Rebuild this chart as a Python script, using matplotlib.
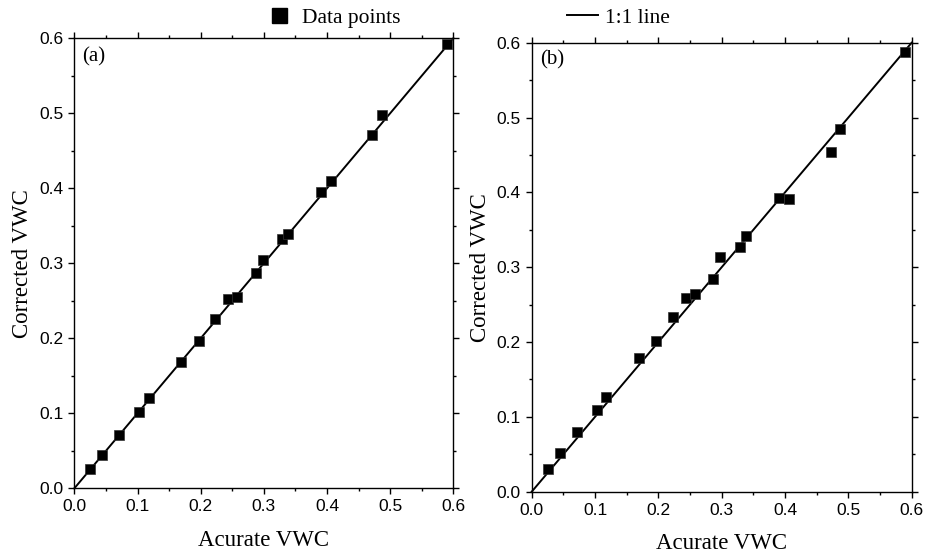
import matplotlib

matplotlib.use("Agg")
import matplotlib.pyplot as plt
from matplotlib.lines import Line2D
from matplotlib.ticker import FormatStrFormatter, MultipleLocator

# accurate soil water content (shared by both panels)
ACCURATE = [0.025, 0.044, 0.071, 0.103, 0.118, 0.169, 0.197, 0.223, 0.244, 0.258,
            0.287, 0.298, 0.329, 0.338, 0.391, 0.407, 0.472, 0.487, 0.590]
# corrected values, two correction schemes
CORRECTED_A = [0.026, 0.045, 0.071, 0.102, 0.120, 0.168, 0.196, 0.226, 0.252, 0.255,
               0.287, 0.305, 0.333, 0.339, 0.395, 0.410, 0.471, 0.498, 0.593]
CORRECTED_B = [0.030, 0.052, 0.080, 0.109, 0.126, 0.178, 0.202, 0.234, 0.259, 0.264,
               0.284, 0.314, 0.327, 0.341, 0.393, 0.391, 0.454, 0.484, 0.587]
ONE_TO_ONE = [0.0, 0.6]
PANELS = ["(a)", "(b)"]

SERIF = "Liberation Serif"
SANS = "Liberation Sans"

plt.rcParams["font.family"] = SANS
plt.rcParams["xtick.labelsize"] = 12.5
plt.rcParams["ytick.labelsize"] = 12.5


def style_axis(ax):
    ax.set_xlim(0, 0.6)
    ax.set_ylim(0, 0.6)
    for a in (ax.xaxis, ax.yaxis):
        a.set_major_locator(MultipleLocator(0.1))
        a.set_minor_locator(MultipleLocator(0.05))
        a.set_major_formatter(FormatStrFormatter("%.1f"))
    ax.tick_params(which="both", direction="out", top=True, right=True, width=1.0)
    ax.tick_params(which="major", length=4.5, pad=3.5)
    ax.tick_params(which="minor", length=2.5)
    for s in ax.spines.values():
        s.set_linewidth(1.0)
    ax.set_xlabel("Acurate VWC", family=SERIF, fontsize=16.5, labelpad=11)
    ax.set_ylabel("Corrected VWC", family=SERIF, fontsize=16.5, labelpad=4)


def main():
    fig = plt.figure(figsize=(9.27, 5.6), dpi=100)
    ax_a = fig.add_axes([0.0802, 0.128, 0.4088, 0.8036])
    ax_b = fig.add_axes([0.5736, 0.122, 0.4099, 0.8018])

    for ax, corr, tag, tx, ty in [(ax_a, CORRECTED_A, PANELS[0], 0.02, 0.958),
                                  (ax_b, CORRECTED_B, PANELS[1], 0.022, 0.961)]:
        ax.plot(ONE_TO_ONE, ONE_TO_ONE, color="black", lw=1.4, zorder=2,
                clip_on=False)
        ax.plot(ACCURATE, corr, ls="none", marker="s", ms=6.5, color="black",
                mec="#333333", mew=0.5, zorder=3, clip_on=False)
        ax.text(tx, ty, tag, transform=ax.transAxes, ha="left", va="center",
                family=SERIF, fontsize=15)
        style_axis(ax)

    pts = Line2D([], [], ls="none", marker="s", ms=10.8, color="black")
    line = Line2D([], [], color="black", lw=1.4)
    for handle, text, x0 in [(pts, "Data points", 263.5), (line, "1:1 line", 566.5)]:
        fig.legend([handle], [text], loc="center left",
                   bbox_to_anchor=(x0 / 927, 1 - 18 / 560), frameon=False,
                   borderpad=0, borderaxespad=0, handlelength=1.44,
                   handletextpad=0.35, prop={"family": SERIF, "size": 15.5})

    fig.savefig("out.png", dpi=100)
    plt.close(fig)


if __name__ == "__main__":
    main()
